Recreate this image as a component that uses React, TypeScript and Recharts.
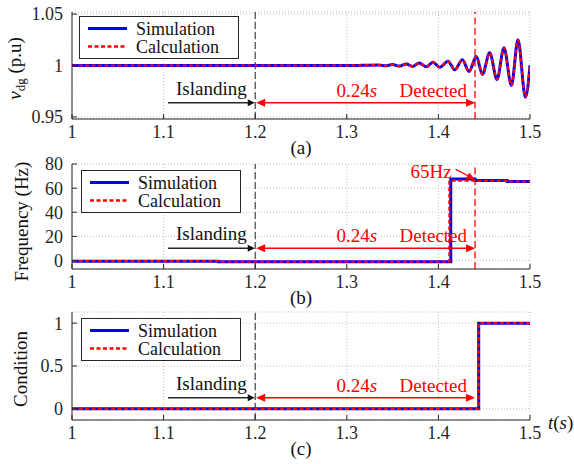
import type { ReactNode } from 'react'
import { LineChart, Line, XAxis, YAxis, CartesianGrid, ReferenceLine, Legend } from 'recharts'

const FONT = '"Liberation Serif", "Times New Roman", Times, serif'
const INK = '#262626'
const BLUE = '#0000ff'
const RED = '#ff0000'

// axes
const timeTicks = [1, 1.1, 1.2, 1.3, 1.4, 1.5]
const vdgTicks = [0.95, 1, 1.05]
const freqTicks = [0, 20, 40, 60, 80]
const condTicks = [0, 0.5, 1]

// (a) voltage at the DG terminal
const vdgTime = [1.0, 1.1, 1.2, 1.3, 1.335, 1.342, 1.35, 1.357, 1.365, 1.372, 1.379, 1.387, 1.394, 1.4014, 1.4105, 1.4178, 1.4262, 1.4334, 1.4415, 1.448, 1.456, 1.464, 1.4716, 1.4797, 1.4869, 1.495, 1.5]
const vdgSim = [1.0, 1.0, 1.0, 1.0, 1.0006, 0.9997, 1.0009, 0.9994, 1.0015, 0.9991, 1.0025, 0.9987, 1.0032, 0.9983, 1.0042, 0.9958, 1.0055, 0.9942, 1.0087, 0.9913, 1.0123, 0.9864, 1.0172, 0.9806, 1.025, 0.9692, 1.0]
const vdgCalc = [1.0, 1.0, 1.0, 1.0, 1.0005, 0.9997, 1.0008, 0.9994, 1.0014, 0.9991, 1.0024, 0.9987, 1.0031, 0.9983, 1.0041, 0.9958, 1.0054, 0.9942, 1.0086, 0.9914, 1.0122, 0.9865, 1.017, 0.9808, 1.0248, 0.9695, 1.0]

// (b) frequency
const freqSimTime = [1.0, 1.16, 1.4135, 1.44, 1.475, 1.5]
const freqSim = [-0.5, -1, 67.5, 66.3, 65.5, 65.5]
const freqCalcTime = [1.0, 1.16, 1.412, 1.44, 1.475, 1.5]
const freqCalc = [-0.5, -1, 66.3, 66.0, 65.5, 65.5]

// (c) detection condition
const condTime = [1.0, 1.444, 1.5]
const condSim = [0, 1, 1]
const condCalc = [0, 1, 1]

type Pt = { t: number; v: number }
const zip = (ts: number[], vs: number[]): Pt[] => ts.map((t, i) => ({ t, v: vs[i] }))

function head(x: number, y: number, ux: number, uy: number, color: string, L = 9, W = 4) {
  const bx = x - ux * L
  const by = y - uy * L
  const px = -uy * W
  const py = ux * W
  return <polygon points={`${x},${y} ${bx + px},${by + py} ${bx - px},${by - py}`} fill={color} />
}

const txt = { fontFamily: FONT, fontSize: 19 }

const islandingShape = (p: any) => {
  const { x1, y1, x2 } = p
  return (
    <g>
      <line x1={x1} y1={y1} x2={x2 - 6} y2={y1} stroke={INK} strokeWidth={1.5} />
      {head(x2, y1, 1, 0, '#111', 7, 3.5)}
      <text x={(x1 + x2) / 2} y={y1 - 8} textAnchor="middle" fill="#111" {...txt}>Islanding</text>
    </g>
  )
}

const detectShape = (p: any) => {
  const { x1, y1, x2 } = p
  return (
    <g>
      <line x1={x1 + 6} y1={y1} x2={x2 - 6} y2={y1} stroke={RED} strokeWidth={1.5} />
      {head(x1, y1, -1, 0, RED)}
      {head(x2, y1, 1, 0, RED)}
      <text x={x1 + (x2 - x1) * 0.46} y={y1 - 6} textAnchor="middle" fill={RED} {...txt}>
        0.24<tspan fontStyle="italic">s</tspan>
      </text>
      <text x={x2 - 8} y={y1 - 6} textAnchor="end" fill={RED} {...txt}>Detected</text>
    </g>
  )
}

const hzShape = (p: any) => {
  const { x1, y1, x2, y2 } = p
  const len = Math.hypot(x2 - x1, y2 - y1)
  const ux = (x2 - x1) / len
  const uy = (y2 - y1) / len
  return (
    <g>
      <line x1={x1} y1={y1} x2={x2 - ux * 6} y2={y2 - uy * 6} stroke={RED} strokeWidth={1.3} />
      {head(x2, y2, ux, uy, RED, 8, 3.5)}
      <text x={x1 - 4} y={y1 + 9} textAnchor="end" fill={RED} {...txt}>65Hz</text>
    </g>
  )
}

function LegendBox() {
  return (
    <svg width={160} height={43} style={{ display: 'block' }}>
      <rect x={0.5} y={0.5} width={159} height={42} fill="#fff" stroke={INK} strokeWidth={1} />
      <line x1={9} y1={12.5} x2={48} y2={12.5} stroke={BLUE} strokeWidth={3} />
      <line x1={9} y1={30.5} x2={48} y2={30.5} stroke={RED} strokeWidth={2.4} strokeDasharray="4 2.5" />
      <text x={57} y={18.5} fill="#111" fontFamily={FONT} fontSize={18}>Simulation</text>
      <text x={57} y={36.5} fill="#111" fontFamily={FONT} fontSize={18}>Calculation</text>
    </svg>
  )
}

interface PanelProps {
  top: number
  height: number
  marginTop: number
  xAxisHeight: number
  domain: [number, number]
  yTicks: number[]
  sim: Pt[]
  calc: Pt[]
  curve: 'monotone' | 'stepAfter'
  yLabel: ReactNode
  yLabelX: number
  yLabelShift: number
  caption: string
  arrowY: number
  legendLeft: number
  legendTop: number
  detectLine: boolean
  showT?: boolean
  children?: ReactNode
}

function Panel(props: PanelProps) {
  const tickFont = { fill: INK, fontSize: 18, fontFamily: FONT }
  return (
    <div style={{ position: 'absolute', left: 0, top: props.top }}>
      <LineChart width={574} height={props.height} margin={{ top: props.marginTop, right: 44, bottom: 0, left: 0 }}>
        <CartesianGrid stroke="#c4c4c4" strokeDasharray="1 2" />
        <XAxis
          type="number"
          dataKey="t"
          domain={[1, 1.5]}
          ticks={timeTicks}
          interval={0}
          allowDataOverflow
          height={props.xAxisHeight}
          tickSize={-5}
          tickMargin={11}
          tick={tickFont}
          axisLine={{ stroke: INK }}
          tickLine={{ stroke: INK }}
          label={(lp: any) => {
            const vb = lp.viewBox
            return (
              <g>
                <text x={vb.x + vb.width / 2} y={vb.y + 35} textAnchor="middle" fill="#111" {...txt}>
                  {props.caption}
                </text>
                {props.showT && (
                  <text x={vb.x + vb.width + 18} y={vb.y + 9} fill="#111" {...txt}>
                    <tspan fontStyle="italic">t</tspan>(<tspan fontStyle="italic">s</tspan>)
                  </text>
                )}
              </g>
            )
          }}
        />
        <XAxis
          xAxisId="top"
          orientation="top"
          type="number"
          dataKey="t"
          domain={[1, 1.5]}
          ticks={timeTicks}
          interval={0}
          allowDataOverflow
          height={0}
          tickSize={-5}
          tick={false}
          axisLine={{ stroke: INK }}
          tickLine={{ stroke: INK }}
        />
        <YAxis
          type="number"
          domain={props.domain}
          ticks={props.yTicks}
          interval={0}
          allowDataOverflow
          width={72}
          tickSize={-5}
          tickMargin={14}
          tick={tickFont}
          axisLine={{ stroke: INK }}
          tickLine={{ stroke: INK }}
          label={(lp: any) => {
            const vb = lp.viewBox
            const cy = vb.y + vb.height / 2 + props.yLabelShift
            return (
              <text transform={`translate(${props.yLabelX}, ${cy}) rotate(-90)`} textAnchor="middle" fill="#111" {...txt}>
                {props.yLabel}
              </text>
            )
          }}
        />
        <YAxis
          yAxisId="right"
          orientation="right"
          type="number"
          domain={props.domain}
          ticks={props.yTicks}
          interval={0}
          allowDataOverflow
          width={0}
          tickSize={-5}
          tick={false}
          axisLine={{ stroke: INK }}
          tickLine={{ stroke: INK }}
        />
        <ReferenceLine x={1.2} stroke="#222" strokeWidth={1} strokeDasharray="7 3" />
        {props.detectLine && <ReferenceLine x={1.44} stroke={RED} strokeWidth={1.3} strokeDasharray="7 3.5" />}
        <Line data={props.sim} dataKey="v" type={props.curve} stroke={BLUE} strokeWidth={3} dot={false} isAnimationActive={false} name="Simulation" />
        <Line data={props.calc} dataKey="v" type={props.curve} stroke={RED} strokeWidth={2.2} strokeDasharray="4 2.5" dot={false} isAnimationActive={false} name="Calculation" />
        <ReferenceLine segment={[{ x: 1.1048, y: props.arrowY }, { x: 1.1995, y: props.arrowY }]} shape={islandingShape} />
        <ReferenceLine segment={[{ x: 1.201, y: props.arrowY }, { x: 1.44, y: props.arrowY }]} shape={detectShape} />
        {props.children}
        <Legend
          layout="horizontal"
          verticalAlign="middle"
          align="center"
          content={() => <LegendBox />}
          wrapperStyle={{ left: props.legendLeft, top: props.legendTop, width: 160, height: 43 }}
        />
      </LineChart>
    </div>
  )
}

export default function App() {
  return (
    <div style={{ position: 'absolute', left: 0, top: 0, width: 574, height: 464, background: '#fff', fontFamily: FONT }}>
      <Panel
        top={0}
        height={162}
        marginTop={12}
        xAxisHeight={43}
        domain={[0.948, 1.052]}
        yTicks={vdgTicks}
        sim={zip(vdgTime, vdgSim)}
        calc={zip(vdgTime, vdgCalc)}
        curve="monotone"
        yLabel={
          <>
            <tspan fontStyle="italic">v</tspan>
            <tspan fontSize={13} dy={4}>dg</tspan>
            <tspan dy={-4}> (p.u)</tspan>
          </>
        }
        yLabelX={20.5}
        yLabelShift={3}
        caption="(a)"
        arrowY={0.9638}
        legendLeft={79}
        legendTop={16}
        detectLine
      />
      <Panel
        top={150}
        height={162}
        marginTop={14}
        xAxisHeight={43}
        domain={[-7, 80]}
        yTicks={freqTicks}
        sim={zip(freqSimTime, freqSim)}
        calc={zip(freqCalcTime, freqCalc)}
        curve="stepAfter"
        yLabel="Frequency (Hz)"
        yLabelX={27.5}
        yLabelShift={5}
        caption="(b)"
        arrowY={10.2}
        legendLeft={81}
        legendTop={20}
        detectLine
      >
        <ReferenceLine segment={[{ x: 1.4189, y: 75.6 }, { x: 1.4396, y: 67.3 }]} shape={hzShape} />
      </Panel>
      <Panel
        top={300}
        height={164}
        marginTop={12}
        xAxisHeight={44}
        domain={[-0.13, 1.13]}
        yTicks={condTicks}
        sim={zip(condTime, condSim)}
        calc={zip(condTime, condCalc)}
        curve="stepAfter"
        yLabel="Condition"
        yLabelX={27}
        yLabelShift={3}
        caption="(c)"
        arrowY={0.13}
        legendLeft={81}
        legendTop={18}
        detectLine={false}
        showT
      />
    </div>
  )
}
